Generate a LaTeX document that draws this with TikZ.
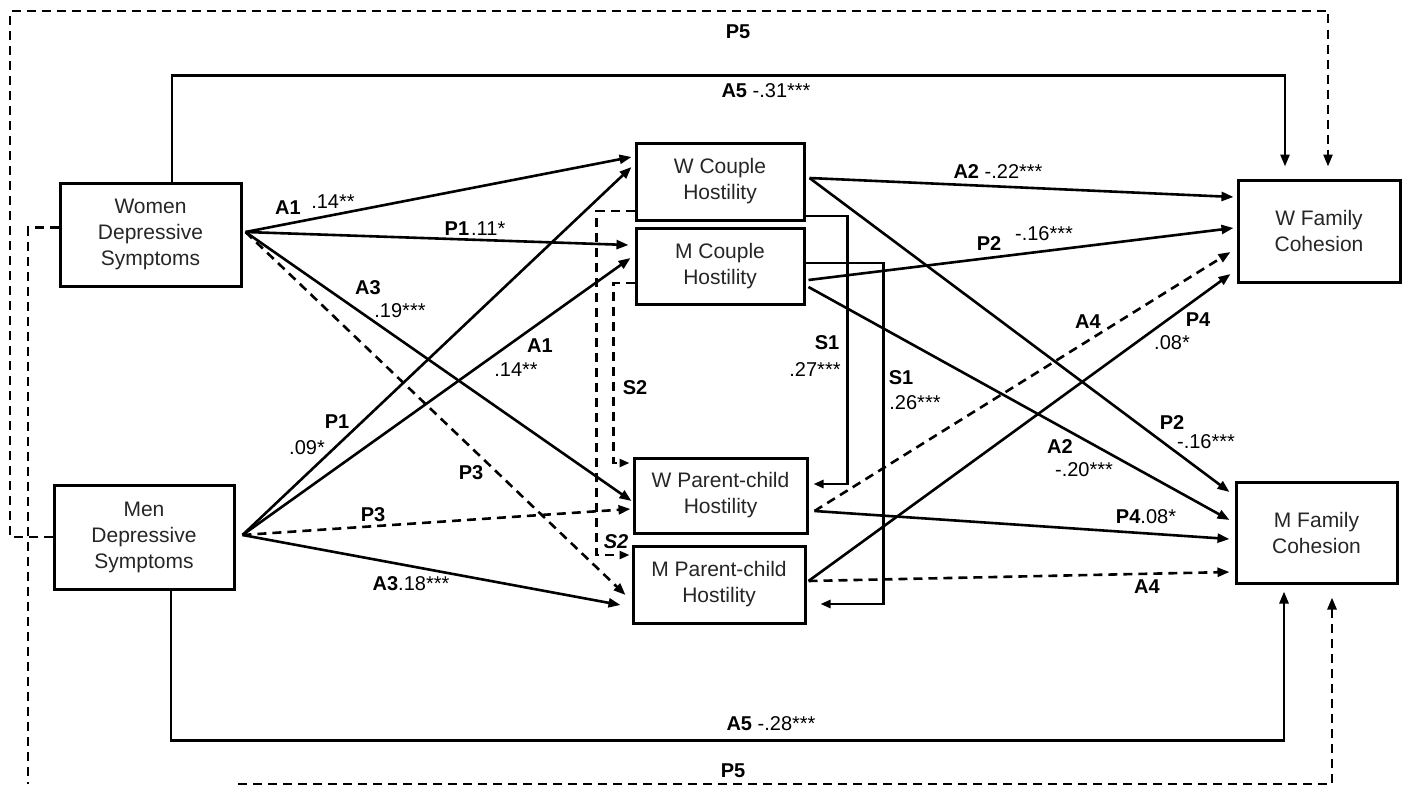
\documentclass[tikz,border=0pt]{standalone}
\usepackage{fontspec}
\setmainfont{Liberation Sans}
\usetikzlibrary{arrows.meta,calc}
\begin{document}
\begin{tikzpicture}[x=1pt,y=-1pt,
  box/.style={draw, line width=3pt, fill=white, align=center, inner sep=0pt,
    text=black!85, font=\fontsize{21}{26}\selectfont},
  link/.style={line width=2.6pt, -{Triangle[length=12pt,width=9pt]}},
  dlink/.style={link, dash pattern=on 9pt off 6pt},
  slink/.style={line width=2.6pt, -{Triangle[length=10pt,width=8pt]}},
  sdlink/.style={slink, dash pattern=on 9pt off 6pt},
  lbl/.style={inner sep=0pt, font=\fontsize{20}{24}\selectfont},
]
\fill[white] (0,0) rectangle (1408,787);
\useasboundingbox (0,0) rectangle (1408,787);

% ---- variables ----
\node[box, minimum width=181pt, minimum height=103pt] (wd) at (150.5,234.5) {Women\\Depressive\\Symptoms};
\node[box, minimum width=180pt, minimum height=104pt] (md) at (144,537) {Men\\Depressive\\Symptoms};
\node[box, minimum width=168pt, minimum height=77pt] (wc) at (720,181.5) {W Couple\\Hostility};
\node[box, minimum width=168pt, minimum height=76pt] (mc) at (720,266) {M Couple\\Hostility};
\node[box, minimum width=173pt, minimum height=75pt] (wp) at (720.5,495.5) {W Parent-child\\Hostility};
\node[box, minimum width=172pt, minimum height=77pt] (mp) at (719,584.5) {M Parent-child\\Hostility};
\node[box, minimum width=162pt, minimum height=102pt] (wf) at (1319,231) {W Family\\Cohesion};
\node[box, minimum width=161pt, minimum height=101pt] (mf) at (1316.5,532.5) {M Family\\Cohesion};

% ---- points where fans of paths leave a box ----
\coordinate (wdo) at ($(wd.east)+(3,-2.5)$);
\coordinate (mdo) at ($(md.east)+(7,-2)$);
\coordinate (wco) at ($(wc.east)+(4,-3.5)$);
\coordinate (mcoA) at ($(mc.east)+(3,14)$);
\coordinate (mcoB) at ($(mc.east)+(3,21)$);
\coordinate (wpo) at ($(wp.east)+(6,15.5)$);
\coordinate (mpo) at ($(mp.east)+(2,-3.5)$);

% ---- depressive symptoms -> hostility ----
\draw[link]  (wdo) -- ($(wc.west)+(-3,-24.5)$);
\draw[link]  (wdo) -- ($(mc.west)+(-6,-21)$);
\draw[link]  (wdo) -- ($(wp.west)+(-1,5.5)$);
\draw[dlink] (wdo) -- ($(mp.west)+(-6,10.5)$);
\draw[link]  (mdo) -- ($(wc.west)+(-3,-14.5)$);
\draw[link]  (mdo) -- ($(mc.west)+(-4,-8)$);
\draw[dlink] (mdo) -- ($(wp.west)+(-2,13.5)$);
\draw[link]  (mdo) -- ($(mp.west)+(-11,20.5)$);

% ---- hostility -> family cohesion ----
\draw[link]  (wco) -- ($(wf.west)+(-3,-34)$);
\draw[link]  (wco) -- ($(mf.west)+(-5,-40.5)$);
\draw[link]  (mcoA) -- ($(wf.west)+(-3,-3)$);
\draw[link]  (mcoB) -- ($(mf.west)+(-5,-12.5)$);
\draw[dlink] (wpo) -- ($(wf.west)+(-6,21)$);
\draw[link]  (wpo) -- ($(mf.west)+(-5,6.5)$);
\draw[link]  (mpo) -- ($(wf.west)+(-6,43)$);
\draw[dlink] (mpo) -- ($(mf.west)+(-5,39.5)$);

% ---- spillover paths ----
\draw[slink]  ($(wc.east)+(0,34.5)$) -- ++(42,0) |- ($(wp.east)+(5,-11.5)$);
\draw[slink]  ($(mc.east)+(0,-3)$) -- ++(78,0) |- ($(mp.east)+(14,19.5)$);
\draw[sdlink] ($(wc.west)+(0,29.5)$) -- ++(-38,0) |- ($(mp.west)+(-2,-29.5)$);
\draw[sdlink] ($(mc.west)+(0,17)$) -- ++(-21,0) |- ($(wp.west)+(-3,-32.5)$);

% ---- direct paths ----
\draw[link] ($(wd.north)+(21.5,0)$) -- ++(0,-106) -| ($(wf.north)+(-34,-12)$);
\draw[link] ($(md.south)+(27,0)$) -- ++(0,150) -| ($(mf.south)+(-32.5,7)$);
\draw[dlink] (md.west) -| (10,11) -| ($(wf.north)+(9,-12)$);
\draw[dlink] ($(wd.west)+(0,-7)$) -| (28,784) (238,784) -| ($(mf.south)+(15.5,13)$);

% ---- labels ----
\node[lbl] (tP5) at (738,32) {\bfseries P5};
\node[lbl] (tA5) at (766,91) {{\bfseries A5} -.31***};
\node[lbl] (wA1) at (288,208) {\bfseries A1};
\node[lbl] (wA1v) at (333,202) {.14**};
\node[lbl] (wP1) at (475,229) {{\bfseries P1}\hspace{2pt}.11*};
\node[lbl] (wA3) at (368,288) {\bfseries A3};
\node[lbl] (wA3v) at (400,311) {.19***};
\node[lbl] (mA1) at (540,346) {\bfseries A1};
\node[lbl] (mA1v) at (516,370) {.14**};
\node[lbl] (mP1) at (337,422) {\bfseries P1};
\node[lbl] (mP1v) at (307,448) {.09*};
\node[lbl] (wP3) at (471,473) {\bfseries P3};
\node[lbl] (mP3) at (373,515) {\bfseries P3};
\node[lbl] (mA3) at (411,584) {{\bfseries A3}.18***};
\node[lbl] (S2a) at (635,388) {\bfseries S2};
\node[lbl] (S2b) at (616,542) {\bfseries\itshape S2};
\node[lbl] (S1a) at (827,343) {\bfseries S1};
\node[lbl] (S1av) at (815,370) {.27***};
\node[lbl] (S1b) at (901,378) {\bfseries S1};
\node[lbl] (S1bv) at (915,403) {.26***};
\node[lbl] (wA2) at (998,172) {{\bfseries A2} -.22***};
\node[lbl] (mP2) at (989,244) {\bfseries P2};
\node[lbl] (mP2v) at (1044,234) {-.16***};
\node[lbl] (wA4) at (1088,322) {\bfseries A4};
\node[lbl] (mP4) at (1198,320) {\bfseries P4};
\node[lbl] (mP4v) at (1172,343) {.08*};
\node[lbl] (wP2) at (1172,423) {\bfseries P2};
\node[lbl] (wP2v) at (1206,442) {-.16***};
\node[lbl] (mA2) at (1060,447) {\bfseries A2};
\node[lbl] (mA2v) at (1084,470) {-.20***};
\node[lbl] (wP4) at (1146,517) {{\bfseries P4}.08*};
\node[lbl] (mA4) at (1147,587) {\bfseries A4};
\node[lbl] (bA5) at (771,724) {{\bfseries A5} -.28***};
\node[lbl] (bP5) at (733,771) {\bfseries P5};
\end{tikzpicture}
\end{document}
